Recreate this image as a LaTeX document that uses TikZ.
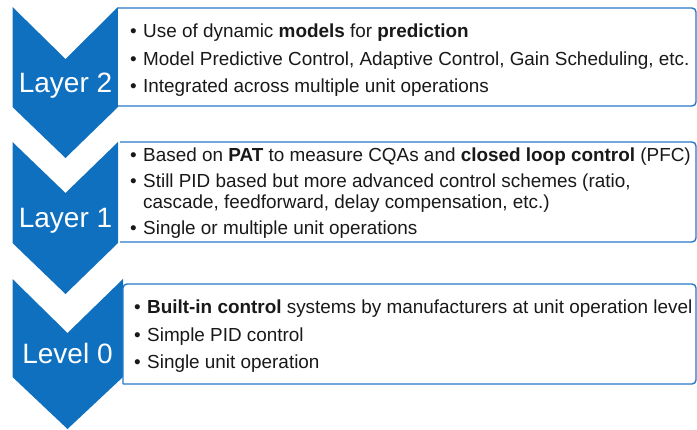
\documentclass[tikz,border=0pt]{standalone}
\usepackage{fontspec}
\setmainfont{Liberation Sans}
\definecolor{chevblue}{RGB}{16,112,192}
\definecolor{boxblue}{RGB}{40,120,200}
\definecolor{txt}{RGB}{25,25,25}
\begin{document}
\begin{tikzpicture}[x=1pt,y=-1pt,
  chev/.style={fill=chevblue,draw=none},
  infobox/.style={draw=boxblue,line width=1.4pt,fill=white,rounded corners=4pt},
  lbl/.style={text=white,font=\fontsize{28}{32}\selectfont,inner sep=0pt,anchor=base},
  bul/.style={text=txt,font=\fontsize{18.9}{21.5}\selectfont,inner sep=0pt,anchor=base west},
  dot/.style={text=txt,font=\fontsize{18.9}{21.5}\selectfont,inner sep=0pt,anchor=base west}]
\useasboundingbox (0,0) rectangle (697,429);
% chevrons
\path[chev] (12.5,7) -- (65.5,59) -- (118,7) -- (118,107) -- (65.5,158) -- (12.5,107) -- cycle;
\path[chev] (12.5,142) -- (65.5,193) -- (118,142) -- (118,243) -- (65.5,294) -- (12.5,243) -- cycle;
\path[chev] (12.5,279) -- (67.5,333) -- (123,279) -- (123,377) -- (67.5,429) -- (12.5,377) -- cycle;
% boxes
\draw[infobox] (118,8) -- (696,8) -- (696,106) -- (118,106);
\draw[infobox] (120,142) -- (696,142) -- (696,242) -- (120,242);
\draw[infobox] (123,384) -- (123,284) -- (696,284) -- (696,384) -- (123,384);
% labels
\node[lbl] (l2) at (65.5,92) {Layer 2};
\node[lbl] (l1) at (65.5,227) {Layer 1};
\node[lbl] (l0) at (67.5,363) {Level 0};
% box 1
\node[dot] (b1d1) at (130,37) {•};
\node[bul] (b1t1) at (143,37) {Use of dynamic \textbf{models} for \textbf{prediction}};
\node[dot] (b1d2) at (130,65) {•};
\node[bul] (b1t2) at (143,65) {Model Predictive Control, Adaptive Control, Gain Scheduling, etc.};
\node[dot] (b1d3) at (130,92) {•};
\node[bul] (b1t3) at (143,92) {Integrated across multiple unit operations};
% box 2
\node[dot] (b2d1) at (130,161) {•};
\node[bul] (b2t1) at (143,161) {Based on \textbf{PAT} to measure CQAs and \textbf{closed loop control} (PFC)};
\node[dot] (b2d2) at (130,187) {•};
\node[bul] (b2t2) at (143,187) {Still PID based but more advanced control schemes (ratio,};
\node[bul] (b2t2b) at (143,208) {cascade, feedforward, delay compensation, etc.)};
\node[dot] (b2d3) at (130,234) {•};
\node[bul] (b2t3) at (143,234) {Single or multiple unit operations};
% box 3
\node[dot] (b3d1) at (134,313) {•};
\node[bul] (b3t1) at (147,313) {\textbf{Built-in control} systems by manufacturers at unit operation level};
\node[dot] (b3d2) at (134,341) {•};
\node[bul] (b3t2) at (147,341) {Simple PID control};
\node[dot] (b3d3) at (134,368) {•};
\node[bul] (b3t3) at (147,368) {Single unit operation};
\end{tikzpicture}
\end{document}
